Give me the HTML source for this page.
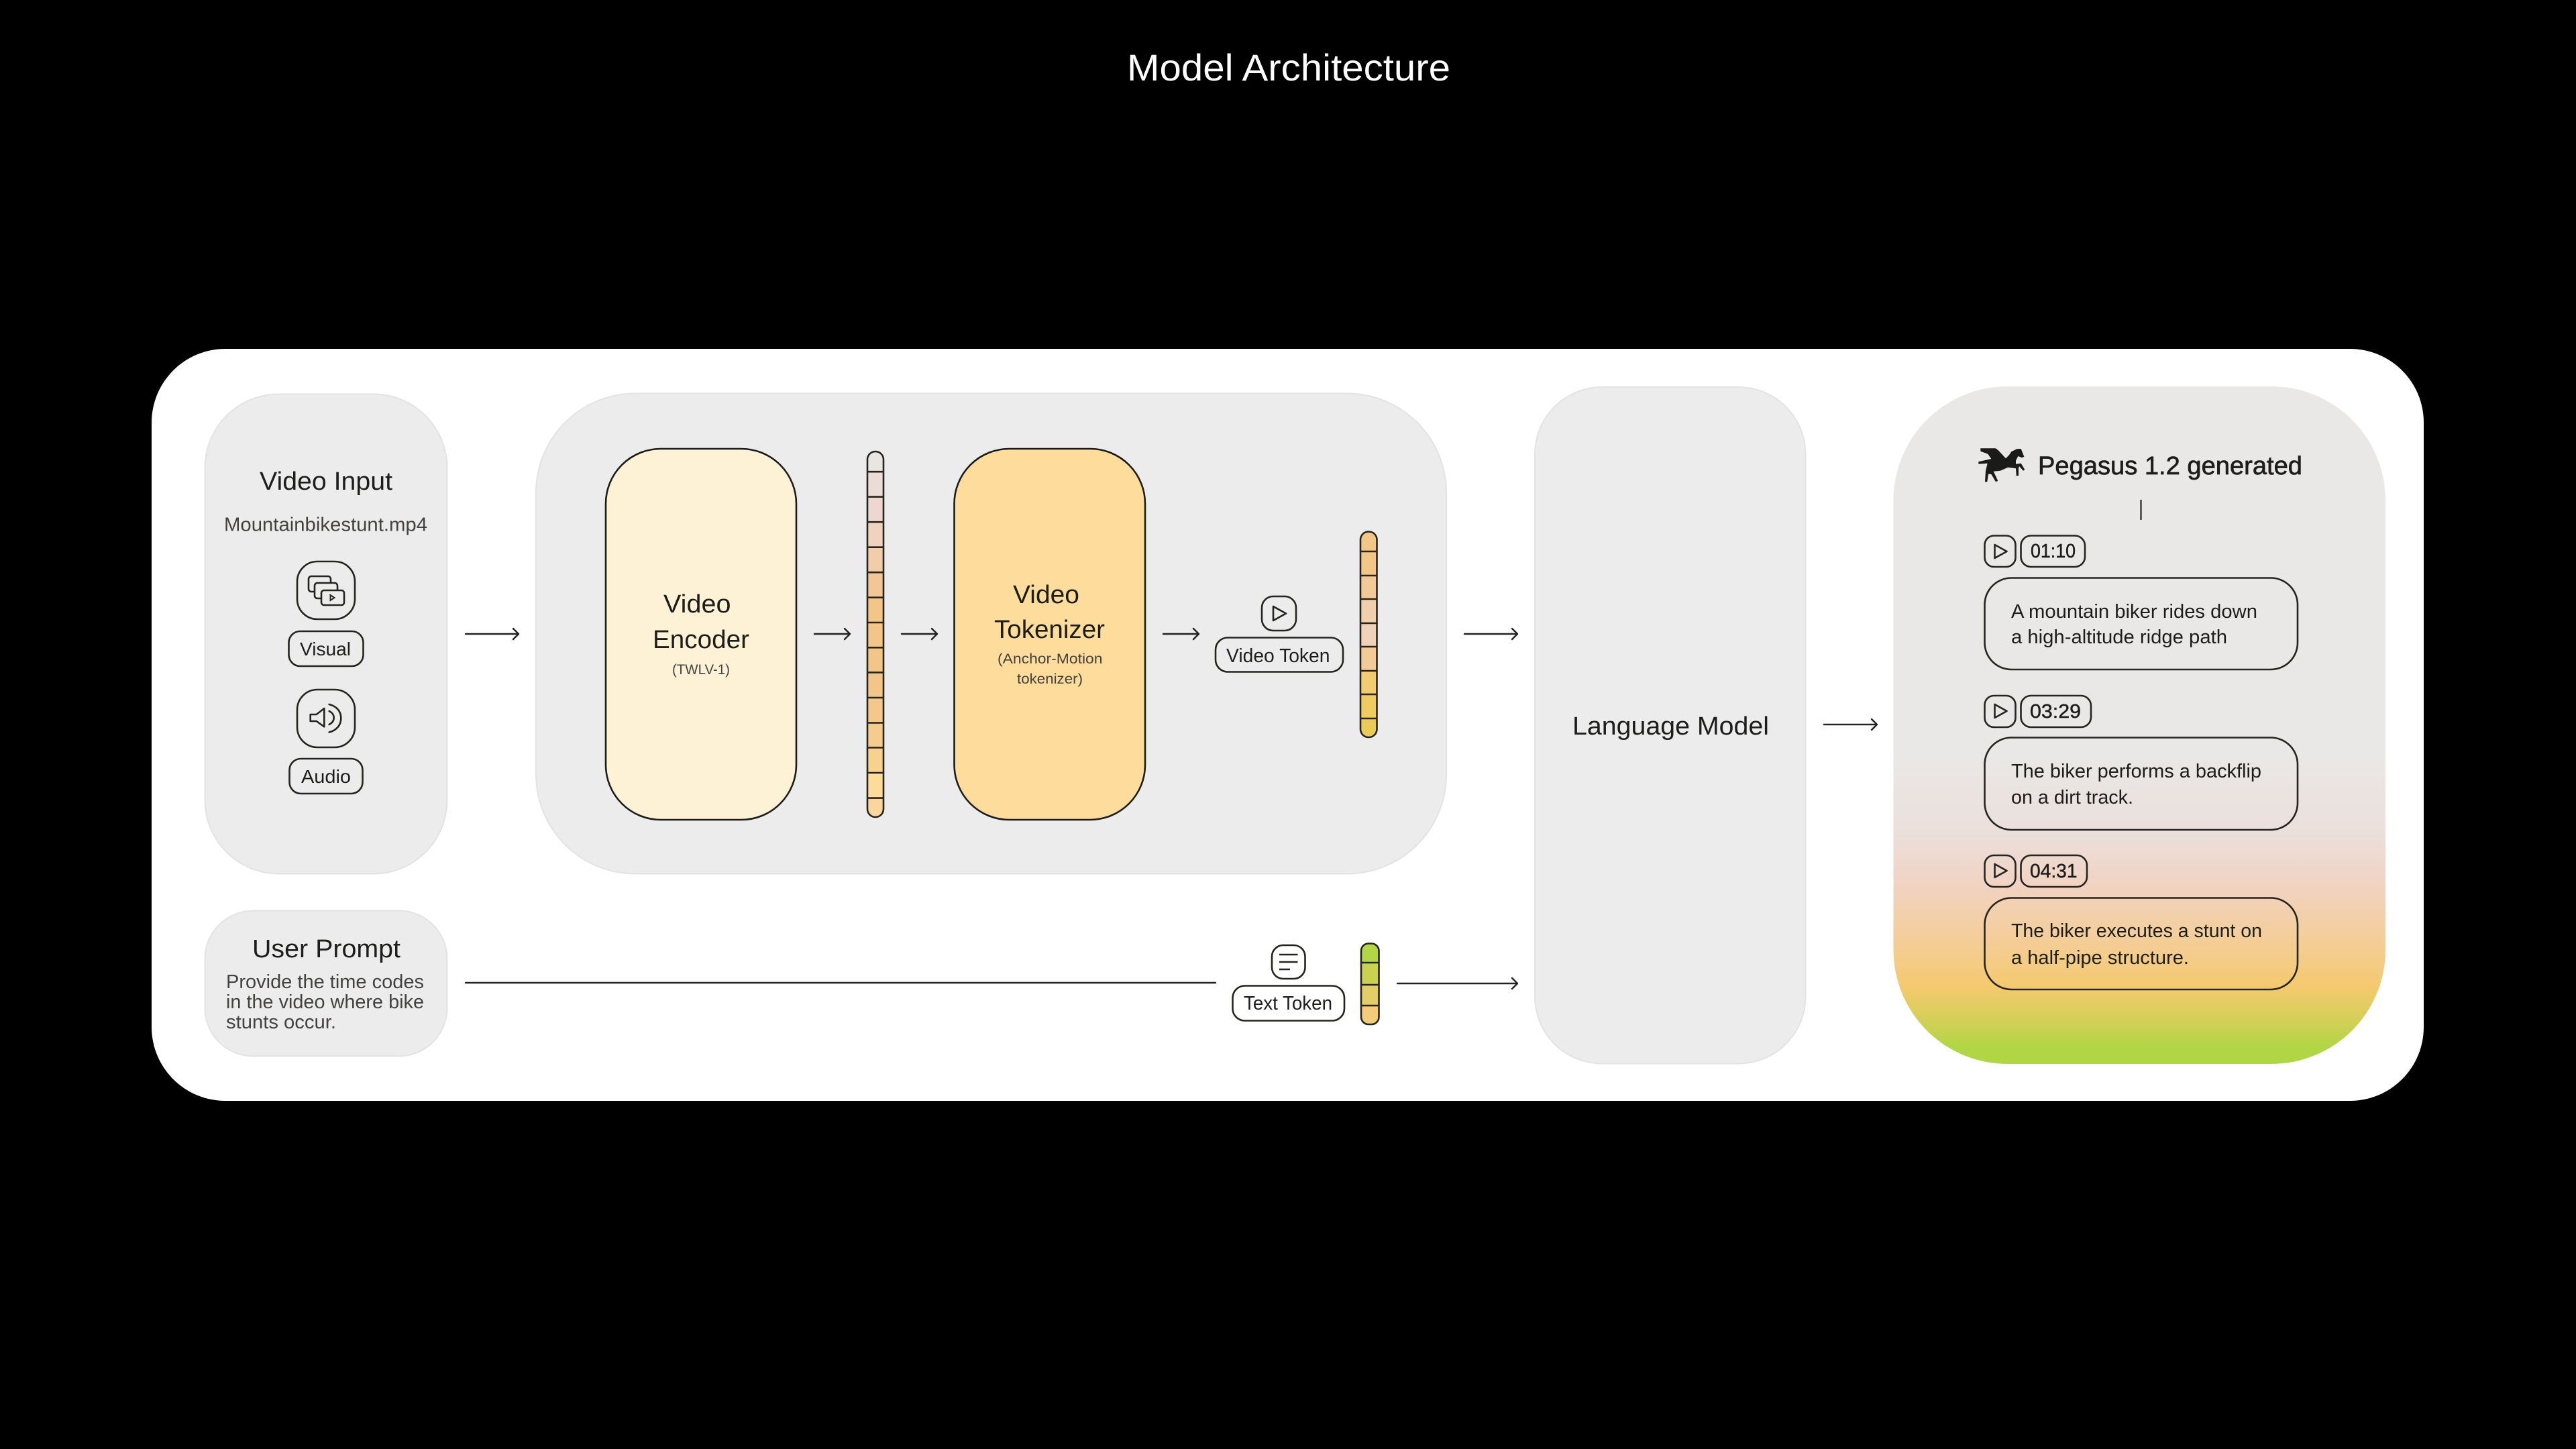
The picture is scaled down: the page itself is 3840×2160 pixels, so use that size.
<!DOCTYPE html>
<html><head><meta charset="utf-8"><style>
html,body{margin:0;padding:0;background:#000;width:3840px;height:2160px;overflow:hidden}
svg{display:block}
text{font-family:"Liberation Sans",sans-serif;fill:#1d1d1b}
.g{fill:#444240}
.s{fill:none;stroke:#26241f;stroke-width:2.6}
.a{fill:none;stroke:#222;stroke-width:2.4;stroke-linecap:round;stroke-linejoin:round}
.p{fill:#ececec;stroke:#e3e3e3;stroke-width:2}
</style></head><body>
<svg width="3840" height="2160" viewBox="0 0 3840 2160" xmlns="http://www.w3.org/2000/svg">
<defs>
<linearGradient id="out" x1="0" y1="576" x2="0" y2="1586" gradientUnits="userSpaceOnUse">
<stop offset="0" stop-color="#e9e8e6"/><stop offset="0.54" stop-color="#e9e8e6"/><stop offset="0.66" stop-color="#ebdfdb"/><stop offset="0.735" stop-color="#f1d3c3"/><stop offset="0.825" stop-color="#f4cd94"/><stop offset="0.885" stop-color="#f4c96f"/><stop offset="0.935" stop-color="#d5cf58"/><stop offset="0.975" stop-color="#b1d645"/><stop offset="1" stop-color="#afd644"/>
</linearGradient>
<clipPath id="b1"><rect x="1293" y="673" width="24" height="545" rx="12"/></clipPath>
<clipPath id="b2"><rect x="2028" y="792" width="24.5" height="307" rx="12"/></clipPath>
<clipPath id="b3"><rect x="2029" y="1406" width="27.5" height="121" rx="11"/></clipPath>
</defs>
<rect width="3840" height="2160" fill="#000"/>
<text x="1680" y="120" font-size="56" textLength="482" lengthAdjust="spacingAndGlyphs" style="fill:#fff">Model Architecture</text>
<rect x="226" y="520" width="3387" height="1121" rx="110" fill="#fff"/>

<!-- panels -->
<rect class="p" x="305.500" y="587.500" width="361" height="715" rx="110"/>
<rect class="p" x="305.500" y="1357.500" width="361" height="217" rx="72"/>
<rect class="p" x="799" y="586.500" width="1357" height="716" rx="148"/>
<rect class="p" x="2288" y="577" width="403.500" height="1008.500" rx="100"/>
<rect x="2822.500" y="576" width="733.500" height="1010" rx="170" fill="url(#out)"/>

<!-- Video Input -->
<text x="387" y="730" font-size="38" textLength="198" lengthAdjust="spacingAndGlyphs">Video Input</text>
<text x="334" y="791.500" font-size="29" textLength="303" lengthAdjust="spacingAndGlyphs" style="fill:#444240">Mountainbikestunt.mp4</text>
<rect class="s" x="443" y="837" width="86" height="86" rx="30"/>
<g class="s">
<path d="M469 882h-5a4 4 0 0 1-4-4v-15a4 4 0 0 1 4-4h25a4 4 0 0 1 4 4v6"/>
<path d="M479 892h-6a4 4 0 0 1-4-4v-15a4 4 0 0 1 4-4h26a4 4 0 0 1 4 4v7"/>
<rect x="479" y="880" width="34" height="22" rx="4"/>
<path d="M492.500 887v8l6-4z" stroke-width="2"/>
</g>
<rect class="s" x="430.500" y="941" width="111" height="52" rx="17"/>
<text x="447" y="977" font-size="28" textLength="76" lengthAdjust="spacingAndGlyphs">Visual</text>
<rect class="s" x="443" y="1028" width="86" height="86" rx="30"/>
<g class="s" stroke-linejoin="round" stroke-linecap="round">
<path d="M462.700 1065v10h9l11.600 8.300v-27.300l-11.600 9z"/>
<path d="M490.700 1060c5 2.500 7 6 7 10s-2 7.500-7 10"/>
<path d="M490.700 1050c12 3 17.600 11 17.600 20.500s-5.600 18-17.600 21"/>
</g>
<rect class="s" x="431.500" y="1131" width="109" height="52" rx="17"/>
<text x="449" y="1167" font-size="28" textLength="74" lengthAdjust="spacingAndGlyphs">Audio</text>

<!-- User Prompt -->
<text x="376" y="1427" font-size="38" textLength="221" lengthAdjust="spacingAndGlyphs">User Prompt</text>
<text x="337" y="1473" font-size="29" textLength="295" lengthAdjust="spacingAndGlyphs" style="fill:#444240">Provide the time codes</text>
<text x="337" y="1503" font-size="29" textLength="295" lengthAdjust="spacingAndGlyphs" style="fill:#444240">in the video where bike</text>
<text x="337" y="1533" font-size="29" textLength="164" lengthAdjust="spacingAndGlyphs" style="fill:#444240">stunts occur.</text>

<!-- arrows -->
<path class="a" d="M694 945H773M765 937l8 8-8 8"/>
<path class="a" d="M1214 945H1267M1259 937l8 8-8 8"/>
<path class="a" d="M1344 945H1397M1389 937l8 8-8 8"/>
<path class="a" d="M1734 945H1787M1779 937l8 8-8 8"/>
<path class="a" d="M2183 945H2262M2254 937l8 8-8 8"/>
<path class="a" d="M2719 1080H2798M2790 1072l8 8-8 8"/>
<path class="a" d="M2083 1466H2262M2254 1458l8 8-8 8"/>
<path class="a" d="M694 1465H1812"/>

<!-- Encoder / Tokenizer -->
<rect x="903" y="669" width="284" height="553" rx="82" fill="#fef2d6" stroke="#1c1c1a" stroke-width="2.600"/>
<rect x="1422.500" y="669" width="284.500" height="553" rx="82" fill="#fedc9b" stroke="#1c1c1a" stroke-width="2.600"/>
<text x="989" y="913" font-size="38" textLength="100.500" lengthAdjust="spacingAndGlyphs">Video</text>
<text x="973" y="966" font-size="38" textLength="144" lengthAdjust="spacingAndGlyphs">Encoder</text>
<text x="1002" y="1005" font-size="21" textLength="86" lengthAdjust="spacingAndGlyphs" style="fill:#444240">(TWLV-1)</text>
<text x="1510" y="899" font-size="38" textLength="99" lengthAdjust="spacingAndGlyphs">Video</text>
<text x="1482" y="951" font-size="38" textLength="165" lengthAdjust="spacingAndGlyphs">Tokenizer</text>
<text x="1487" y="989" font-size="21" textLength="156.500" lengthAdjust="spacingAndGlyphs" style="fill:#444240">(Anchor-Motion</text>
<text x="1516" y="1019" font-size="21" textLength="98" lengthAdjust="spacingAndGlyphs" style="fill:#444240">tokenizer)</text>

<!-- Bar 1 -->
<g clip-path="url(#b1)">
<rect x="1293" y="673" width="24" height="30" fill="#e9e5e3"/>
<rect x="1293" y="703" width="24" height="38" fill="#ecdcd7"/>
<rect x="1293" y="741" width="24" height="37" fill="#eed7ce"/>
<rect x="1293" y="778" width="24" height="38" fill="#efd3c0"/>
<rect x="1293" y="816" width="24" height="37" fill="#f1cda8"/>
<rect x="1293" y="853" width="24" height="38" fill="#f3c795"/>
<rect x="1293" y="891" width="24" height="150" fill="#f3c587"/>
<rect x="1293" y="1041" width="24" height="37" fill="#f4c88a"/>
<rect x="1293" y="1078" width="24" height="37" fill="#f5cc8d"/>
<rect x="1293" y="1115" width="24" height="37" fill="#f7d28f"/>
<rect x="1293" y="1152" width="24" height="38" fill="#fcdc98"/>
<rect x="1293" y="1190" width="24" height="28" fill="#fbd59b"/>
</g>
<rect class="s" x="1293" y="673" width="24" height="545" rx="12"/>
<path class="s" d="M1293 703.200h24M1293 740.600h24M1293 778.200h24M1293 815.700h24M1293 853.200h24M1293 890.700h24M1293 928h24M1293 965.300h24M1293 1002.400h24M1293 1040h24M1293 1077.500h24M1293 1114.500h24M1293 1152h24M1293 1189.600h24"/>

<!-- Video Token -->
<rect class="s" x="1881" y="889" width="51" height="51" rx="17"/>
<path class="s" d="M1898 904v21l19-10.500z" stroke-linejoin="round"/>
<rect class="s" x="1812" y="950.500" width="190" height="51" rx="18"/>
<text x="1828" y="987" font-size="29" textLength="154.500" lengthAdjust="spacingAndGlyphs">Video Token</text>

<!-- Bar 2 -->
<g clip-path="url(#b2)">
<rect x="2028" y="792" width="25" height="30" fill="#f3c688"/>
<rect x="2028" y="822" width="25" height="36" fill="#f3c587"/>
<rect x="2028" y="858" width="25" height="35" fill="#f3ca97"/>
<rect x="2028" y="893" width="25" height="36" fill="#f2cfac"/>
<rect x="2028" y="929" width="25" height="35" fill="#f0d2b8"/>
<rect x="2028" y="964" width="25" height="36" fill="#f4cb96"/>
<rect x="2028" y="1000" width="25" height="35" fill="#f3cc72"/>
<rect x="2028" y="1035" width="25" height="36" fill="#efcb62"/>
<rect x="2028" y="1071" width="25" height="28" fill="#ebcb58"/>
</g>
<rect class="s" x="2028" y="792.500" width="24.500" height="306.500" rx="12"/>
<path class="s" d="M2028 822h24.500M2028 858h24.500M2028 893h24.500M2028 929h24.500M2028 964h24.500M2028 1000h24.500M2028 1035h24.500M2028 1071h24.500"/>

<!-- Text Token -->
<rect class="s" x="1896" y="1409" width="49.500" height="50" rx="17"/>
<path class="s" d="M1907 1423h27.500M1907 1434h27.500M1907 1445h16"/>
<rect class="s" x="1837.500" y="1469.500" width="166.500" height="52" rx="18"/>
<text x="1854" y="1505" font-size="29" textLength="132" lengthAdjust="spacingAndGlyphs">Text Token</text>
<g clip-path="url(#b3)">
<rect x="2029" y="1406" width="28" height="29" fill="#b2d645"/>
<rect x="2029" y="1435" width="28" height="33" fill="#cad151"/>
<rect x="2029" y="1468" width="28" height="31" fill="#e3cd66"/>
<rect x="2029" y="1499" width="28" height="28" fill="#f3cb79"/>
</g>
<rect class="s" x="2029" y="1406.500" width="26.500" height="120.500" rx="11"/>
<path class="s" d="M2029 1435h26.500M2029 1468h26.500M2029 1499h26.500"/>

<!-- Language model -->
<text x="2344" y="1095" font-size="38" textLength="293" lengthAdjust="spacingAndGlyphs">Language Model</text>

<!-- Output -->
<polygon fill="#1a1a18" points="2952.300,668.300 2975,668.300 2979.300,671.700 2990,683.300 2995,678.300 2998.300,673.300 3006.700,669.300 3012.700,669 3017.300,680.700 3014,682.300 3008.300,680 3005,686.700 3005,691.700 3012.700,690.700 3018.300,700 3016,701.700 3010,695 3009,698.300 3009,709.300 3005.700,709.300 3005,698.300 2993.300,696.700 2981.700,701.700 2971.700,702.700 2978.300,716.700 2975,718.300 2968.300,706.700 2964,706.700 2962.300,718.300 2959,718.300 2960,701.700 2962.700,690.700 2949.300,691.700 2949.300,688.300 2968.300,684 2963.300,676.700 2952.300,672.700"/>
<text x="3038" y="707" font-size="38" textLength="394" lengthAdjust="spacingAndGlyphs" style="stroke:#1d1d1b;stroke-width:.7">Pegasus 1.2 generated</text>
<path d="M3191.500 745v30" stroke="#222" stroke-width="2.200"/>

<rect class="s" x="2958.500" y="798.500" width="46" height="46.500" rx="14"/>
<path class="s" stroke-width="3" d="M2973.500 812v20l18-10z" stroke-linejoin="round"/>
<rect class="s" x="3012.500" y="798.500" width="95.500" height="46.500" rx="15"/>
<text x="3027" y="831" font-size="29" textLength="67" lengthAdjust="spacingAndGlyphs" style="stroke:#1d1d1b;stroke-width:.5">01:10</text>
<rect class="s" x="2958.500" y="861.500" width="466.500" height="136.500" rx="40"/>
<text x="2998" y="921" font-size="29" textLength="367" lengthAdjust="spacingAndGlyphs">A mountain biker rides down</text>
<text x="2998" y="959" font-size="29" textLength="322" lengthAdjust="spacingAndGlyphs">a high-altitude ridge path</text>

<rect class="s" x="2958.500" y="1037" width="46" height="47" rx="14"/>
<path class="s" stroke-width="3" d="M2973.500 1050v20l18-10z" stroke-linejoin="round"/>
<rect class="s" x="3012.500" y="1037" width="104.500" height="47" rx="15"/>
<text x="3026" y="1070" font-size="29" textLength="76" lengthAdjust="spacingAndGlyphs" style="stroke:#1d1d1b;stroke-width:.5">03:29</text>
<rect class="s" x="2958.500" y="1099.500" width="466.500" height="137.500" rx="40"/>
<text x="2998" y="1159" font-size="29" textLength="373" lengthAdjust="spacingAndGlyphs">The biker performs a backflip</text>
<text x="2998" y="1198" font-size="29" textLength="182" lengthAdjust="spacingAndGlyphs">on a dirt track.</text>

<rect class="s" x="2958.500" y="1275" width="46" height="47" rx="14"/>
<path class="s" stroke-width="3" d="M2973.500 1288v20l18-10z" stroke-linejoin="round"/>
<rect class="s" x="3012.500" y="1275" width="98.500" height="47" rx="15"/>
<text x="3026" y="1308" font-size="29" textLength="70.500" lengthAdjust="spacingAndGlyphs" style="stroke:#1d1d1b;stroke-width:.5">04:31</text>
<rect class="s" x="2958.500" y="1338.500" width="466.500" height="136.500" rx="40"/>
<text x="2998" y="1397" font-size="29" textLength="374" lengthAdjust="spacingAndGlyphs">The biker executes a stunt on</text>
<text x="2998" y="1437" font-size="29" textLength="265" lengthAdjust="spacingAndGlyphs">a half-pipe structure.</text>
</svg>
</body></html>
